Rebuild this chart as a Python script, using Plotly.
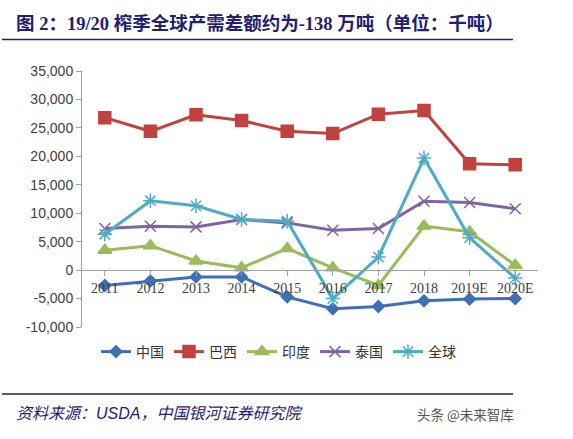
import plotly.graph_objects as go

years = ["2011", "2012", "2013", "2014", "2015", "2016", "2017", "2018", "2019E", "2020E"]
china = [-2700, -1900, -1200, -1200, -4700, -6800, -6400, -5400, -5100, -5000]
brazil = [26800, 24400, 27300, 26300, 24400, 24000, 27400, 28050, 18700, 18500]
india = [3500, 4300, 1600, 400, 3800, 400, -2700, 7750, 6750, 850]
thailand = [7300, 7700, 7600, 8900, 8300, 7000, 7300, 12100, 11900, 10800]
world = [6300, 12200, 11300, 8900, 8600, -5000, 2300, 19700, 5700, -1400]

ytick_vals = [-10000, -5000, 0, 5000, 10000, 15000, 20000, 25000, 30000, 35000]
ytick_text = ["-10,000", "-5,000", "0", "5,000", "10,000", "15,000", "20,000", "25,000", "30,000", "35,000"]

series = [
    ("中国", china, "#3F6FB5", "diamond", 9, 3),
    ("巴西", brazil, "#C0433F", "square", 12, 3),
    ("印度", india, "#9BBB59", "triangle-up", 12, 3),
    ("泰国", thailand, "#8064A2", "x-thin-open", 11, 3),
    ("全球", world, "#4BACC6", "asterisk-open", 12, 3),
]

fig = go.Figure()
for name, vals, color, sym, size, w in series:
    fig.add_trace(go.Scatter(
        x=years, y=vals, name=name, mode="lines+markers",
        line=dict(color=color, width=w),
        marker=dict(symbol=sym, size=size, color=color, line=dict(color=color, width=1.5)),
    ))

L, R, T, B = 82, 538, 71, 327
W, H = 573, 439
pw, ph = R - L, B - T

def px(x):
    return (x - L) / pw

def py(y):
    return (B - y) / ph

fig.update_layout(
    width=W, height=H,
    margin=dict(l=L, r=W - R, t=T, b=H - B, pad=0),
    paper_bgcolor="white", plot_bgcolor="white",
    showlegend=True,
    legend=dict(orientation="h", x=px(96), xanchor="left", y=py(352), yanchor="middle",
                font=dict(family="Noto Sans CJK SC", size=14, color="#333333"),
                itemwidth=30, tracegroupgap=0),
    xaxis=dict(type="category", anchor="free", position=10000 / 45000,
               showline=True, linecolor="#A0A0A0", linewidth=1,
               ticks="outside", ticklen=5, tickcolor="#A0A0A0",
               showgrid=False, zeroline=False,
               tickfont=dict(family="Liberation Serif", size=14, color="#404040"),
               range=[-0.5, 9.5]),
    yaxis=dict(range=[-10000, 35000], tickvals=ytick_vals, ticktext=ytick_text,
               showline=True, linecolor="#A0A0A0", linewidth=1,
               ticks="outside", ticklen=5, tickcolor="#A0A0A0",
               showgrid=False, zeroline=False,
               tickfont=dict(family="Liberation Sans", size=14, color="#404040")),
)

navy = "#1F2070"
fig.add_annotation(
    xref="paper", yref="paper", x=px(14), y=py(23), xanchor="left", yanchor="middle",
    text="<b>图 2：19/20 榨季全球产需差额约为-138 万吨（单位：千吨）</b>",
    showarrow=False,
    font=dict(family="Liberation Serif, Noto Sans CJK SC", size=18.5, color=navy),
)
fig.add_shape(type="line", xref="paper", yref="paper", x0=px(2), x1=px(513),
              y0=py(39.5), y1=py(39.5), line=dict(color=navy, width=1.5))
fig.add_shape(type="line", xref="paper", yref="paper", x0=px(2), x1=px(513),
              y0=py(394), y1=py(394), line=dict(color=navy, width=1.5))
fig.add_annotation(
    xref="paper", yref="paper", x=px(14), y=py(413), xanchor="left", yanchor="middle",
    text="<i>资料来源：USDA，中国银河证券研究院</i>", showarrow=False,
    font=dict(family="Liberation Sans, Noto Sans CJK SC", size=16, color=navy),
)
fig.add_annotation(
    xref="paper", yref="paper", x=px(415), y=py(414), xanchor="left", yanchor="middle",
    text="头条 @未来智库", showarrow=False,
    font=dict(family="Noto Sans CJK SC", size=13.5, color="#555555"),
)

fig.write_html("out.html", config={"displayModeBar": False},
               post_script="document.body.style.margin='0';")
